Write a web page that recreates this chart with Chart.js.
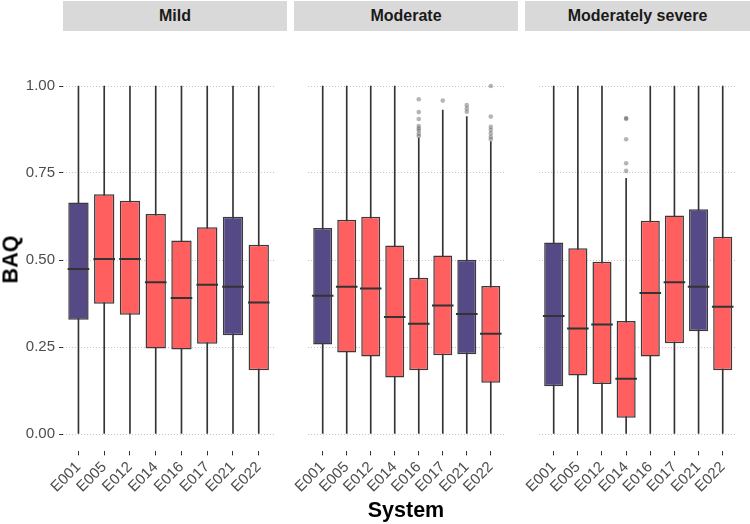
<!DOCTYPE html>
<html>
<head>
<meta charset="utf-8">
<script src="https://cdn.jsdelivr.net/npm/chart.js@4.4.1/dist/chart.umd.min.js"></script>
<style>
  body { margin: 0; background: #fff; }
  #wrap { position: relative; width: 750px; height: 524px; overflow: hidden; font-family: Arial, "Liberation Sans", sans-serif; }
  canvas { position: absolute; top: 0; }
  .strip { position: absolute; top: 1px; height: 30px; line-height: 30px; background: #d9d9d9; color: #1a1a1a;
           font-weight: bold; font-size: 16px; text-align: center; }
  .axtitle { position: absolute; font-weight: bold; font-size: 21.5px; color: #000; }
</style>
</head>
<body>
<div id="wrap">
  <canvas id="c0" width="287" height="524" style="left:0px"></canvas>
  <canvas id="c1" width="224" height="524" style="left:294px"></canvas>
  <canvas id="c2" width="225" height="524" style="left:525px"></canvas>
  <div class="strip" style="left:63px;width:224px">Mild</div>
  <div class="strip" style="left:294px;width:224px">Moderate</div>
  <div class="strip" style="left:525px;width:225px">Moderately severe</div>
  <div class="axtitle" style="left:-14px;top:247px;width:50px;text-align:center;transform:rotate(-90deg)">BAQ</div>
  <div class="axtitle" style="left:306px;top:498px;width:200px;text-align:center">System</div>
</div>
<script>
const systems = ["E001", "E005", "E012", "E014", "E016", "E017", "E021", "E022"];
const severities = ["Mild", "Moderate", "Moderately severe"];
const purpleSystems = ["E001", "E021"];
const yTicks = [0, 0.25, 0.5, 0.75, 1];

// Mild
const mildMin = [0, 0, 0, 0, 0, 0, 0, 0];
const mildQ1 = [0.328, 0.374, 0.343, 0.246, 0.243, 0.259, 0.284, 0.183];
const mildMedian = [0.474, 0.503, 0.503, 0.436, 0.391, 0.429, 0.423, 0.378];
const mildQ3 = [0.665, 0.689, 0.670, 0.632, 0.556, 0.594, 0.624, 0.544];
const mildMax = [1, 1, 1, 1, 1, 1, 1, 1];
const mildOutliers = [[], [], [], [], [], [], [], []];

// Moderate
const moderateMin = [0, 0, 0, 0, 0, 0, 0, 0];
const moderateQ1 = [0.257, 0.234, 0.223, 0.162, 0.183, 0.226, 0.229, 0.147];
const moderateMedian = [0.397, 0.423, 0.418, 0.336, 0.317, 0.369, 0.345, 0.288];
const moderateQ3 = [0.592, 0.616, 0.624, 0.542, 0.449, 0.513, 0.501, 0.425];
const moderateMax = [1, 1, 1, 1, 0.850, 0.931, 0.912, 0.840];
const moderateOutliers = [[], [], [], [],
  [0.962, 0.925, 0.905, 0.885, 0.878, 0.872, 0.863, 0.856],
  [0.958],
  [0.945, 0.935, 0.926],
  [1.0, 0.912, 0.883, 0.874, 0.864, 0.854, 0.847]];

// Moderately severe
const severeMin = [0, 0, 0, 0, 0, 0, 0, 0];
const severeQ1 = [0.137, 0.168, 0.144, 0.047, 0.223, 0.261, 0.295, 0.183];
const severeMedian = [0.339, 0.303, 0.315, 0.159, 0.405, 0.436, 0.423, 0.366];
const severeQ3 = [0.550, 0.534, 0.495, 0.325, 0.613, 0.628, 0.646, 0.567];
const severeMax = [1, 1, 1, 0.735, 1, 1, 1, 1];
const severeOutliers = [[], [], [], [0.908, 0.905, 0.847, 0.778, 0.756], [], [], [], []];

const panels = [
  { min: mildMin, q1: mildQ1, med: mildMedian, q3: mildQ3, max: mildMax, out: mildOutliers },
  { min: moderateMin, q1: moderateQ1, med: moderateMedian, q3: moderateQ3, max: moderateMax, out: moderateOutliers },
  { min: severeMin, q1: severeQ1, med: severeMedian, q3: severeQ3, max: severeMax, out: severeOutliers },
];

const purple = "#564a86";
const red = "#ff5f5f";
const textGray = "#4d4d4d";

function drawPanel(canvasId, p, showY) {
  const fills = systems.map((s) => (purpleSystems.includes(s) ? purple : red));
  const outlierPts = [];
  p.out.forEach((vals, i) => vals.forEach((v) => outlierPts.push({ x: i + 1, y: v })));

  return new Chart(document.getElementById(canvasId), {
    type: "bar",
    data: {
      datasets: [
        {
          type: "scatter",
          data: outlierPts,
          pointRadius: 2.3,
          pointBackgroundColor: "rgba(70,70,70,0.4)",
          pointBorderWidth: 0,
          order: 0,
        },
        {
          type: "scatter",
          data: p.med.map((v, i) => ({ x: i + 1, y: v })),
          pointStyle: "line",
          pointRadius: 10.8,
          pointBorderWidth: 2,
          pointBorderColor: "#333333",
          order: 1,
        },
        {
          data: p.q1.map((v, i) => ({ x: i + 1, y: [v, p.q3[i]] })),
          backgroundColor: fills,
          borderColor: "#3a3a3a",
          borderWidth: 1.5,
          borderSkipped: false,
          grouped: false,
          categoryPercentage: 0.79,
          barPercentage: 1,
          order: 2,
        },
        {
          data: p.min.map((v, i) => ({ x: i + 1, y: [v, p.max[i]] })),
          backgroundColor: "#333333",
          borderWidth: 0,
          grouped: false,
          barThickness: 1,
          order: 3,
        },
      ],
    },
    options: {
      responsive: false,
      animation: false,
      devicePixelRatio: 1,
      layout: { padding: { top: 68.6, left: 0, right: 0, bottom: 0 } },
      plugins: { legend: { display: false }, tooltip: { enabled: false } },
      events: [],
      scales: {
        x: {
          type: "linear",
          min: 0.4,
          max: 8.6,
          offset: false,
          afterBuildTicks: (axis) => { axis.ticks = systems.map((s, i) => ({ value: i + 1 })); },
          afterFit: (axis) => { axis.height = 72.6; },
          ticks: {
            autoSkip: false,
            minRotation: 45,
            maxRotation: 45,
            padding: 3,
            color: textGray,
            font: { family: "Arial, 'Liberation Sans'", size: 15 },
            callback: (v) => systems[Math.round(v) - 1],
          },
          grid: { offset: false, drawOnChartArea: false, drawTicks: true, tickLength: 4, tickColor: "#333333", tickWidth: 1 },
          border: { display: false },
        },
        y: {
          min: -0.05,
          max: 1.05,
          afterBuildTicks: (axis) => { axis.ticks = yTicks.map((v) => ({ value: v })); },
          afterFit: (axis) => { axis.width = showY ? 63 : 0; },
          ticks: {
            display: showY,
            padding: 4,
            color: textGray,
            font: { family: "Arial, 'Liberation Sans'", size: 15 },
            callback: (v) => v.toFixed(2),
          },
          grid: {
            color: "#c4c4c4",
            lineWidth: 1,
            drawTicks: showY,
            tickLength: 4,
            tickColor: "#333333",
            tickWidth: 1,
            tickBorderDash: [],
          },
          border: { display: false, dash: [1, 2] },
        },
      },
    },
  });
}

panels.forEach((p, i) => drawPanel("c" + i, p, i === 0));
</script>
</body>
</html>
